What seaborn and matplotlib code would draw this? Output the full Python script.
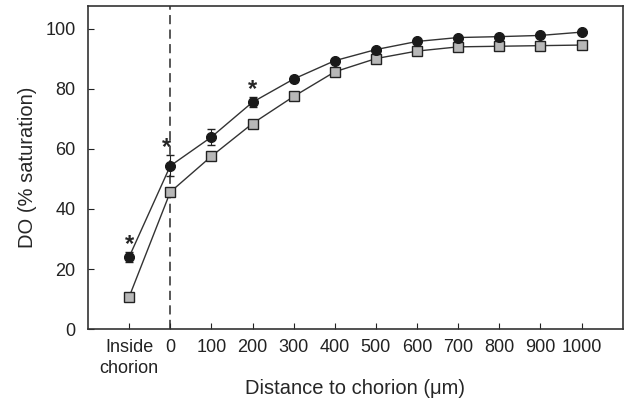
import matplotlib
matplotlib.use("Agg")

import matplotlib.pyplot as plt
import numpy as np
import pandas as pd
import seaborn as sns

# positions on the x axis are category indices
tick_labels = ["Inside\nchorion", "0", "100", "200", "300", "400", "500", "600", "700", "800", "900", "1000"]
circle_do = [24.0, 54.3, 63.9, 75.5, 83.2, 89.3, 93.0, 95.7, 97.0, 97.3, 97.7, 98.8]
circle_err = [1.5, 3.5, 2.7, 1.7, 1.0, 0.6, 0.6, 0.5, 0.5, 0.5, 0.5, 0.5]
square_do = [10.7, 45.6, 57.5, 68.4, 77.4, 85.6, 90.0, 92.5, 93.9, 94.1, 94.3, 94.5]
square_err = [0.8, 1.0, 0.8, 0.8, 0.6, 0.6, 0.5, 0.5, 0.5, 0.5, 0.5, 0.5]
signif_idx = [0, 1, 3]

sns.set_style("ticks")
plt.rcParams["font.family"] = ["Liberation Sans", "DejaVu Sans"]

pos = np.arange(len(tick_labels))
df = pd.DataFrame({"pos": pos, "circle": circle_do, "square": square_do})

fig = plt.figure(figsize=(6.24, 3.98), dpi=100)
ax = fig.add_axes([0.141, 0.173, 0.857, 0.812])

ax.axvline(1, color="#2a2a2a", linestyle=(0, (6, 3.5)), linewidth=1.1, zorder=1)

ax.errorbar(pos, square_do, yerr=square_err, fmt="none", ecolor="#333333", elinewidth=0.8, capsize=3, zorder=2)
sns.lineplot(data=df, x="pos", y="square", ax=ax, color="#333333", linewidth=1.0,
             marker="s", markersize=6.5, markerfacecolor="#b8b8b8", markeredgecolor="#222222",
             markeredgewidth=1.0, zorder=3)
ax.errorbar(pos, circle_do, yerr=circle_err, fmt="none", ecolor="#222222", elinewidth=0.8, capsize=3, zorder=4)
sns.lineplot(data=df, x="pos", y="circle", ax=ax, color="#333333", linewidth=1.0,
             marker="o", markersize=7.2, markerfacecolor="#1a1a1a", markeredgecolor="#1a1a1a", zorder=5)

for i in signif_idx:
    ax.text(pos[i] - 0.1 if i == 1 else pos[i], circle_do[i] + circle_err[i] + 2.5, "*",
            ha="center", va="center", fontsize=17, fontweight="bold")

ax.set_xlim(-1, 12)
ax.set_ylim(0, 107.5)
ax.set_xticks(pos)
ax.set_xticklabels(tick_labels, linespacing=1.35)
ax.set_yticks(np.arange(0, 101, 20))
ax.tick_params(direction="in", length=4, labelsize=13, colors="#222222")
ax.tick_params(axis="y", pad=9)
ax.tick_params(axis="x", pad=7)
ax.set_xlabel("Distance to chorion (\u03bcm)", fontsize=14.5)
ax.xaxis.set_label_coords(0.5, -0.155)
ax.set_ylabel("DO (% saturation)", fontsize=14.5, labelpad=6)
for s in ax.spines.values():
    s.set_visible(True)
    s.set_color("#333333")
    s.set_linewidth(1.2)

fig.savefig("out.png", dpi=100)
